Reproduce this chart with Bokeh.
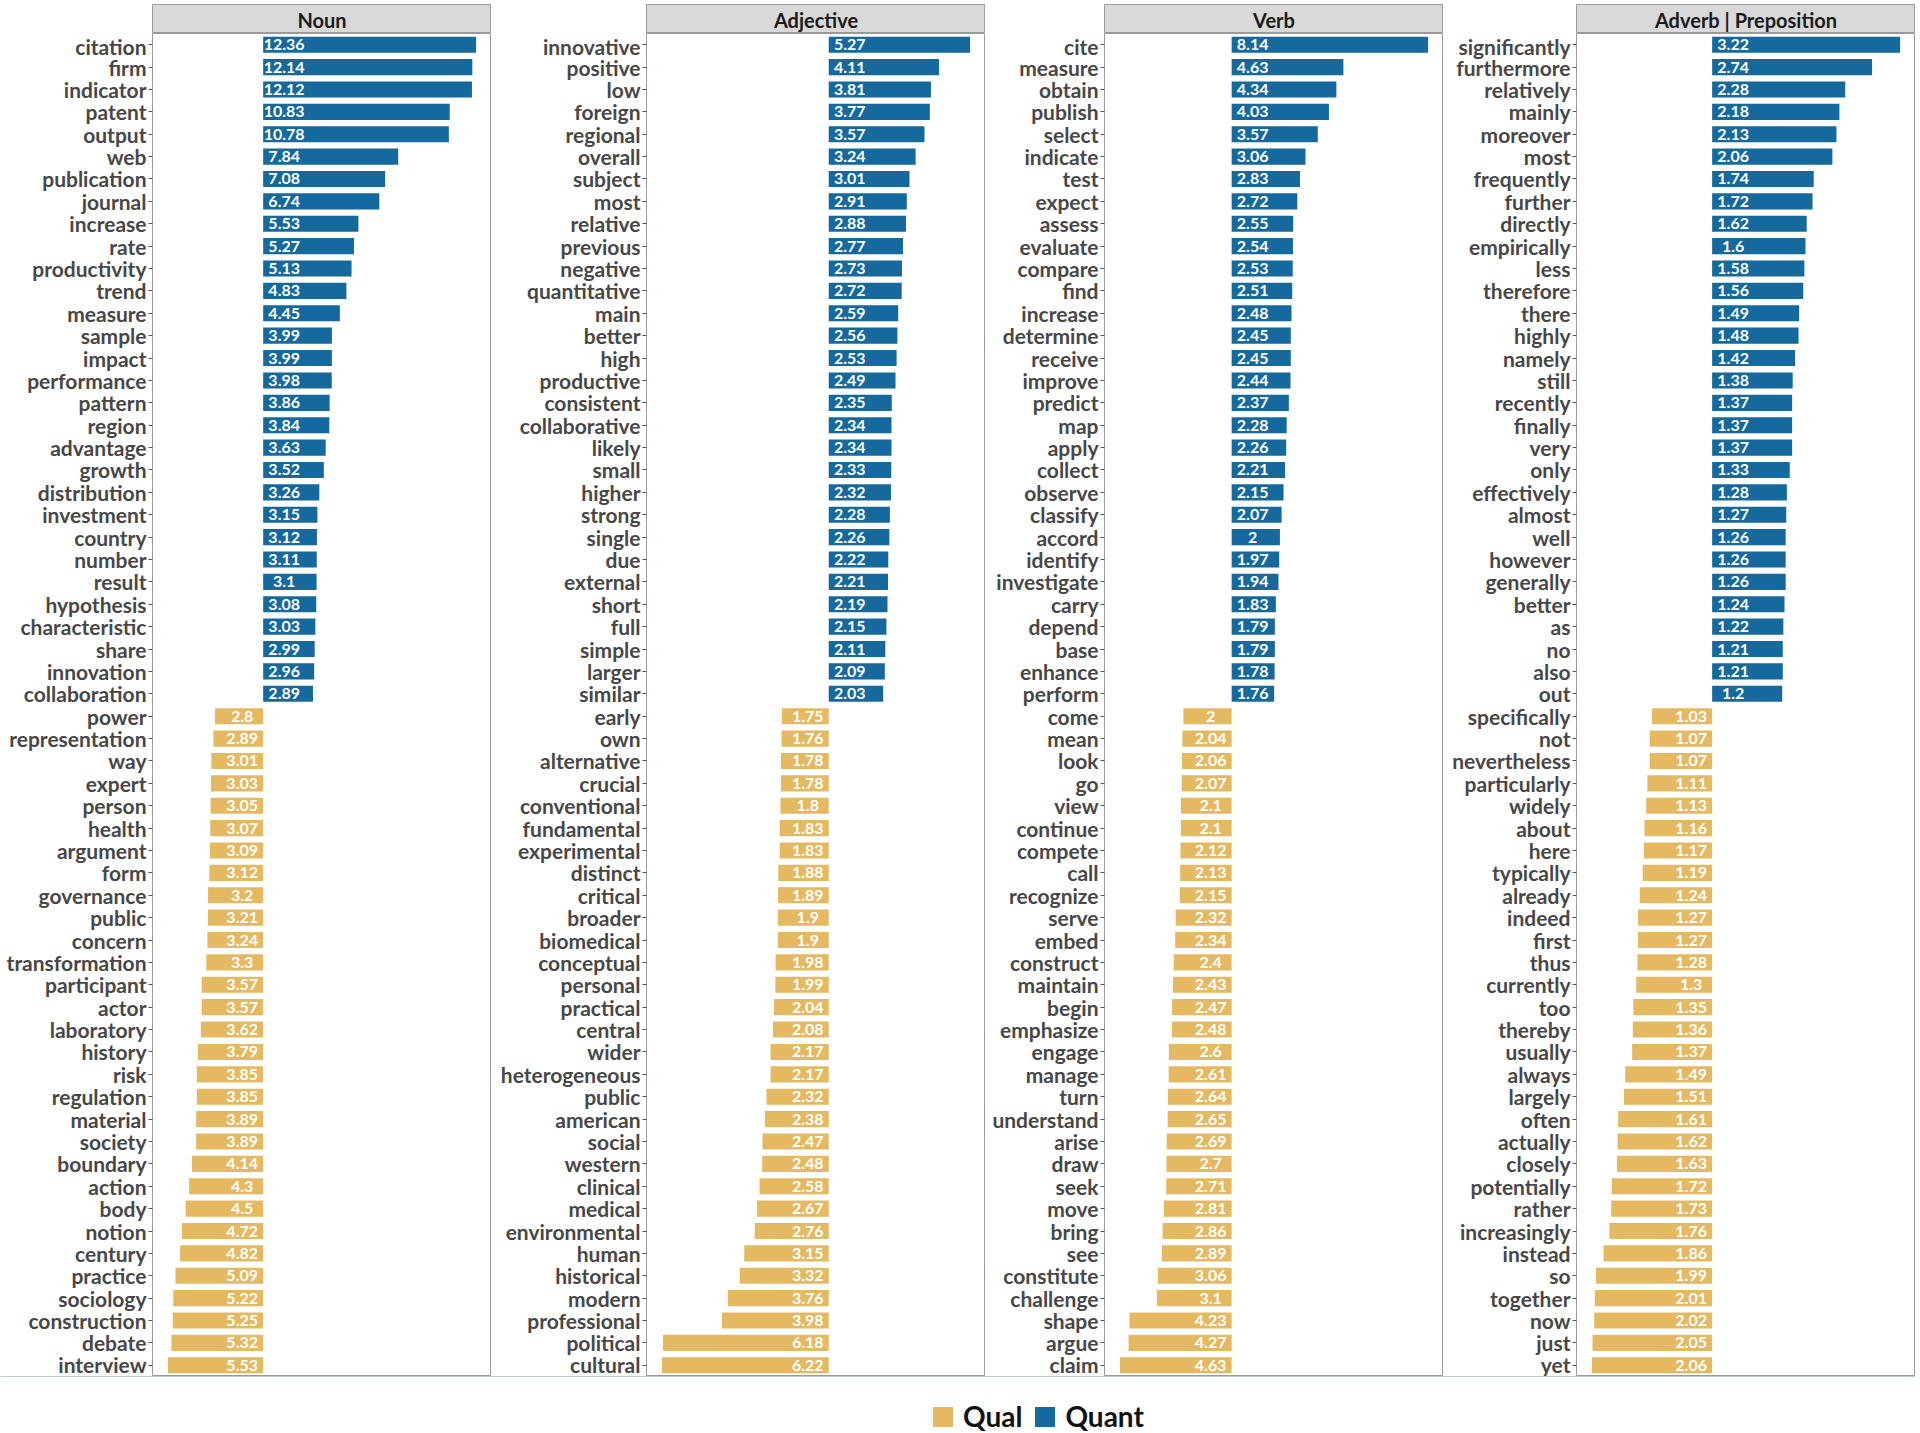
from bokeh.plotting import figure
from bokeh.layouts import row, column
from bokeh.models import FactorRange, Range1d, Legend, LegendItem
from bokeh.core.properties import value
from bokeh.embed import file_html
from bokeh.resources import INLINE

FONT = "Lato"
BLUE = "#15699C"
GOLD = "#E4B961"
BORDER = "#9A9A9A"

panel_titles = ["Noun", "Adjective", "Verb", "Adverb | Preposition"]

noun_quant_words = ["citation", "firm", "indicator", "patent", "output", "web", "publication", "journal",
                    "increase", "rate", "productivity", "trend", "measure", "sample", "impact", "performance",
                    "pattern", "region", "advantage", "growth", "distribution", "investment", "country",
                    "number", "result", "hypothesis", "characteristic", "share", "innovation", "collaboration"]
noun_quant_vals = [12.36, 12.14, 12.12, 10.83, 10.78, 7.84, 7.08, 6.74, 5.53, 5.27, 5.13, 4.83, 4.45, 3.99,
                   3.99, 3.98, 3.86, 3.84, 3.63, 3.52, 3.26, 3.15, 3.12, 3.11, 3.1, 3.08, 3.03, 2.99, 2.96, 2.89]
noun_qual_words = ["power", "representation", "way", "expert", "person", "health", "argument", "form",
                   "governance", "public", "concern", "transformation", "participant", "actor", "laboratory",
                   "history", "risk", "regulation", "material", "society", "boundary", "action", "body",
                   "notion", "century", "practice", "sociology", "construction", "debate", "interview"]
noun_qual_vals = [2.8, 2.89, 3.01, 3.03, 3.05, 3.07, 3.09, 3.12, 3.2, 3.21, 3.24, 3.3, 3.57, 3.57, 3.62,
                  3.79, 3.85, 3.85, 3.89, 3.89, 4.14, 4.3, 4.5, 4.72, 4.82, 5.09, 5.22, 5.25, 5.32, 5.53]

adj_quant_words = ["innovative", "positive", "low", "foreign", "regional", "overall", "subject", "most",
                   "relative", "previous", "negative", "quantitative", "main", "better", "high", "productive",
                   "consistent", "collaborative", "likely", "small", "higher", "strong", "single", "due",
                   "external", "short", "full", "simple", "larger", "similar"]
adj_quant_vals = [5.27, 4.11, 3.81, 3.77, 3.57, 3.24, 3.01, 2.91, 2.88, 2.77, 2.73, 2.72, 2.59, 2.56, 2.53,
                  2.49, 2.35, 2.34, 2.34, 2.33, 2.32, 2.28, 2.26, 2.22, 2.21, 2.19, 2.15, 2.11, 2.09, 2.03]
adj_qual_words = ["early", "own", "alternative", "crucial", "conventional", "fundamental", "experimental",
                  "distinct", "critical", "broader", "biomedical", "conceptual", "personal", "practical",
                  "central", "wider", "heterogeneous", "public", "american", "social", "western", "clinical",
                  "medical", "environmental", "human", "historical", "modern", "professional", "political",
                  "cultural"]
adj_qual_vals = [1.75, 1.76, 1.78, 1.78, 1.8, 1.83, 1.83, 1.88, 1.89, 1.9, 1.9, 1.98, 1.99, 2.04, 2.08,
                 2.17, 2.17, 2.32, 2.38, 2.47, 2.48, 2.58, 2.67, 2.76, 3.15, 3.32, 3.76, 3.98, 6.18, 6.22]

verb_quant_words = ["cite", "measure", "obtain", "publish", "select", "indicate", "test", "expect", "assess",
                    "evaluate", "compare", "find", "increase", "determine", "receive", "improve", "predict",
                    "map", "apply", "collect", "observe", "classify", "accord", "identify", "investigate",
                    "carry", "depend", "base", "enhance", "perform"]
verb_quant_vals = [8.14, 4.63, 4.34, 4.03, 3.57, 3.06, 2.83, 2.72, 2.55, 2.54, 2.53, 2.51, 2.48, 2.45, 2.45,
                   2.44, 2.37, 2.28, 2.26, 2.21, 2.15, 2.07, 2, 1.97, 1.94, 1.83, 1.79, 1.79, 1.78, 1.76]
verb_qual_words = ["come", "mean", "look", "go", "view", "continue", "compete", "call", "recognize", "serve",
                   "embed", "construct", "maintain", "begin", "emphasize", "engage", "manage", "turn",
                   "understand", "arise", "draw", "seek", "move", "bring", "see", "constitute", "challenge",
                   "shape", "argue", "claim"]
verb_qual_vals = [2, 2.04, 2.06, 2.07, 2.1, 2.1, 2.12, 2.13, 2.15, 2.32, 2.34, 2.4, 2.43, 2.47, 2.48, 2.6,
                  2.61, 2.64, 2.65, 2.69, 2.7, 2.71, 2.81, 2.86, 2.89, 3.06, 3.1, 4.23, 4.27, 4.63]

adv_quant_words = ["significantly", "furthermore", "relatively", "mainly", "moreover", "most", "frequently",
                   "further", "directly", "empirically", "less", "therefore", "there", "highly", "namely",
                   "still", "recently", "finally", "very", "only", "effectively", "almost", "well", "however",
                   "generally", "better", "as", "no", "also", "out"]
adv_quant_vals = [3.22, 2.74, 2.28, 2.18, 2.13, 2.06, 1.74, 1.72, 1.62, 1.6, 1.58, 1.56, 1.49, 1.48, 1.42,
                  1.38, 1.37, 1.37, 1.37, 1.33, 1.28, 1.27, 1.26, 1.26, 1.26, 1.24, 1.22, 1.21, 1.21, 1.2]
adv_qual_words = ["specifically", "not", "nevertheless", "particularly", "widely", "about", "here",
                  "typically", "already", "indeed", "first", "thus", "currently", "too", "thereby", "usually",
                  "always", "largely", "often", "actually", "closely", "potentially", "rather", "increasingly",
                  "instead", "so", "together", "now", "just", "yet"]
adv_qual_vals = [1.03, 1.07, 1.07, 1.11, 1.13, 1.16, 1.17, 1.19, 1.24, 1.27, 1.27, 1.28, 1.3, 1.35, 1.36,
                 1.37, 1.49, 1.51, 1.61, 1.62, 1.63, 1.72, 1.73, 1.76, 1.86, 1.99, 2.01, 2.02, 2.05, 2.06]

legend_labels = ["Qual", "Quant"]

FRAME_W = 339
FRAME_H = 1343
HEADER_H = 29


def make_header(title, left_border):
    h = figure(x_range=Range1d(0, 1), y_range=Range1d(0, 1), frame_width=FRAME_W, frame_height=HEADER_H,
               min_border_left=left_border, min_border_right=0, min_border_top=4, min_border_bottom=0,
               x_axis_location=None, y_axis_location=None, toolbar_location=None, output_backend="svg",
               background_fill_color="#D9D9D9", border_fill_color="white")
    h.grid.visible = False
    h.outline_line_color = BORDER
    h.outline_line_width = 1
    h.text(x=[0.5], y=[0.47], text=[title], text_align="center", text_baseline="middle",
           text_font=value(FONT), text_font_style="bold", text_font_size="20px", text_color="#1a1a1a")
    return h


def make_panel(quant_w, quant_v, qual_w, qual_v, left_border):
    factors = list(reversed(quant_w + qual_w))
    span = max(quant_v) + max(qual_v)
    pad = 0.05 * span
    p = figure(y_range=FactorRange(factors=factors),
               x_range=Range1d(-max(qual_v) - pad, max(quant_v) + pad),
               frame_width=FRAME_W, frame_height=FRAME_H,
               min_border_left=left_border, min_border_right=0, min_border_top=0, min_border_bottom=0,
               x_axis_location=None, toolbar_location=None, output_backend="svg")
    p.grid.visible = False
    p.outline_line_color = BORDER
    p.outline_line_width = 1
    p.hbar(y=quant_w, left=0, right=quant_v, height=0.72, fill_color=BLUE, line_color=None)
    p.hbar(y=qual_w, left=[-v for v in qual_v], right=0, height=0.72, fill_color=GOLD, line_color=None)
    p.text(x=0, y=quant_w, text=[f"{v:g}" for v in quant_v], x_offset=21, text_align="center",
           text_baseline="middle", text_font=value(FONT), text_font_style="bold", text_font_size="16px",
           text_color="white")
    p.text(x=0, y=qual_w, text=[f"{v:g}" for v in qual_v], x_offset=-21, text_align="center",
           text_baseline="middle", text_font=value(FONT), text_font_style="bold", text_font_size="16px",
           text_color="white")
    ax = p.yaxis[0]
    ax.axis_line_color = None
    ax.major_tick_out = 4
    ax.major_tick_in = 0
    ax.major_tick_line_color = "#555555"
    ax.major_label_standoff = 2
    ax.major_label_text_font = FONT
    ax.major_label_text_font_style = "bold"
    ax.major_label_text_font_size = "21px"
    ax.major_label_text_color = "#474747"
    return p


data = [
    (noun_quant_words, noun_quant_vals, noun_qual_words, noun_qual_vals),
    (adj_quant_words, adj_quant_vals, adj_qual_words, adj_qual_vals),
    (verb_quant_words, verb_quant_vals, verb_qual_words, verb_qual_vals),
    (adv_quant_words, adv_quant_vals, adv_qual_words, adv_qual_vals),
]
left_borders = [152, 155, 119, 133]

cols = []
for title, d, lb in zip(panel_titles, data, left_borders):
    h = make_header(title, lb)
    p = make_panel(*d, lb)
    cols.append(column(h, p, spacing=0))

total_w = sum(lb + FRAME_W for lb in left_borders)
lp = figure(x_range=Range1d(0, 1), y_range=Range1d(0, 1), width=total_w, height=57,
            min_border_left=0, min_border_right=0, min_border_top=0, min_border_bottom=0,
            x_axis_location=None, y_axis_location=None, toolbar_location=None, output_backend="svg")
lp.grid.visible = False
lp.outline_line_color = None
# legend-only renderers: their data lie outside the visible range
r_qual = lp.hbar(y=[10], left=[0], right=[1], height=0.5, fill_color=GOLD, line_color=None)
r_quant = lp.hbar(y=[10], left=[0], right=[1], height=0.5, fill_color=BLUE, line_color=None)
legend = Legend(items=[LegendItem(label=legend_labels[0], renderers=[r_qual]),
                       LegendItem(label=legend_labels[1], renderers=[r_quant])],
                orientation="horizontal", location=(930, 0),
                glyph_width=25, glyph_height=25, label_standoff=8, spacing=10,
                label_text_font=FONT, label_text_font_style="bold", label_text_font_size="28px",
                label_text_color="#111111", border_line_color=None, background_fill_alpha=0,
                padding=0, margin=0)
lp.add_layout(legend)

layout = column(row(*cols, spacing=0), lp, spacing=0)

open("out.html", "w").write(file_html(layout, INLINE))
